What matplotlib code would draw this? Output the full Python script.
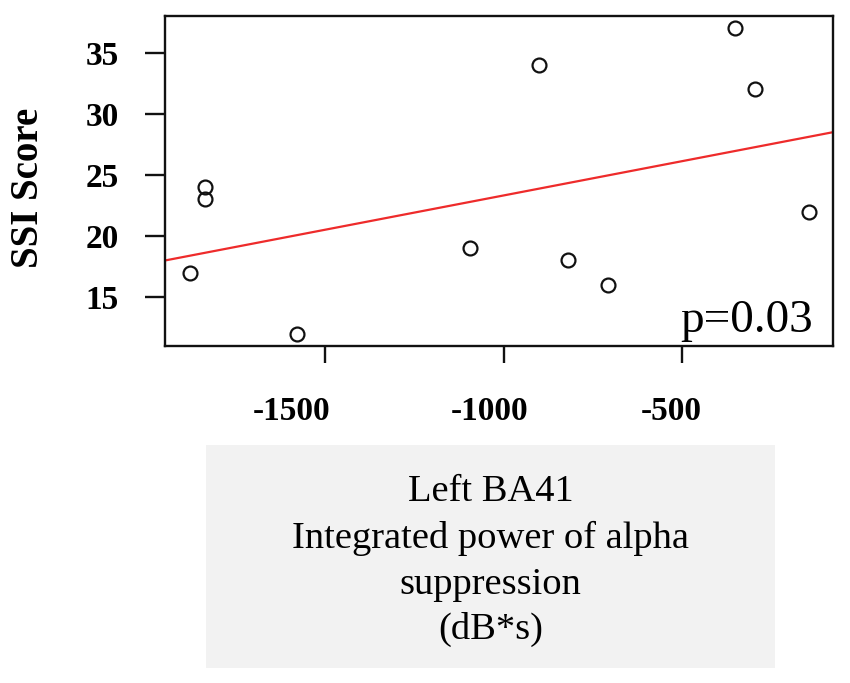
import numpy as np
import matplotlib
matplotlib.use("Agg")
import matplotlib.pyplot as plt
from matplotlib.patches import Rectangle

plt.rcParams['font.family'] = ['Liberation Serif', 'DejaVu Serif']

# data
alpha_power = [-1880, -1836, -1836, -1579, -1095, -901, -820, -708, -350, -295, -145]
ssi_score = [17, 24, 23, 12, 19, 34, 18, 16, 37, 32, 22]
x_ticks = [-1500, -1000, -500]
x_tick_labels = ['-1500', '-1000', '-500']
y_ticks = [15, 20, 25, 30, 35]
box_lines = ['Left BA41', 'Integrated power of alpha', 'suppression', '(dB*s)']
p_text = 'p=0.03'

x = np.array(alpha_power, dtype=float)
y = np.array(ssi_score, dtype=float)

fig = plt.figure(figsize=(8.5, 6.83), dpi=100)
ax = fig.add_axes([0.1941, 0.4934, 0.7863, 0.4832])

ax.plot(x, y, 'o', mfc='none', mec='#111111', ms=10, mew=1.6, zorder=3)

# R style limits (4% padding)
xr = x.max() - x.min()
yr = y.max() - y.min()
ax.set_xlim(x.min() - 0.04 * xr, x.max() + 0.04 * xr)
ax.set_ylim(y.min() - 0.04 * yr, y.max() + 0.04 * yr)

# regression line across the whole plot
slope, icpt = np.polyfit(x, y, 1)
xs = np.array(ax.get_xlim())
ax.plot(xs, slope * xs + icpt, color='#ee2b2b', lw=1.6, zorder=2)

for s in ax.spines.values():
    s.set_linewidth(1.7)
    s.set_color('#111111')

ax.set_xticks(x_ticks)
ax.set_xticklabels([])
ax.tick_params(axis='x', length=12.5, width=1.7, direction='out', color='#111111')
# labels sit a bit left of their ticks in the original
offsets = [-34, -14, -11]
for t, lab, dx in zip(x_ticks, x_tick_labels, offsets):
    ax.annotate(lab, xy=(t, 0), xycoords=('data', 'axes fraction'),
                xytext=(dx, -74), textcoords='offset pixels',
                ha='center', va='baseline', fontsize=24, fontweight='bold',
                annotation_clip=False)

ax.set_yticks(y_ticks)
ax.set_yticklabels([str(v) for v in y_ticks], fontsize=24, fontweight='bold')
ax.tick_params(axis='y', length=14.4, width=1.7, direction='out', pad=19,
               color='#111111')

ax.text(0.97, 0.043, p_text, transform=ax.transAxes, ha='right', va='baseline',
        fontsize=34)

fig.text(28.5 / 850, 1 - 188 / 683, 'SSI Score', rotation=90, ha='center',
         va='center', fontsize=28, fontweight='bold')

# grey caption box under the axis
fig.patches.append(Rectangle((206 / 850, 1 - 668.3 / 683), (775 - 206) / 850,
                             (668.3 - 445) / 683, transform=fig.transFigure,
                             facecolor='#f2f2f2', edgecolor='none', zorder=0))
baselines = [501, 548, 593.5, 638.5]
for line, b in zip(box_lines, baselines):
    fig.text(490.5 / 850, 1 - b / 683, line, ha='center', va='baseline',
             fontsize=27.7)

fig.savefig('out.png', dpi=100)
